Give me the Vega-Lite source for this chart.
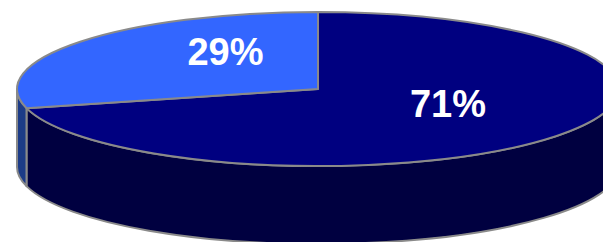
{
  "$schema": "https://vega.github.io/schema/vega-lite/v6.json",
  "width": 603,
  "height": 242,
  "padding": 0,
  "autosize": {"type": "none"},
  "background": "white",
  "config": {"view": {"stroke": null}},
  "data": {"values": [
    {"slice": "A", "value": 71, "label": "71%"},
    {"slice": "B", "value": 29, "label": "29%"}
  ]},
  "resolve": {"scale": {"shape": "independent", "fill": "independent"}},
  "layer": [
    {
      "mark": {"type": "point", "filled": true, "opacity": 1, "size": 4, "stroke": "#8a8a8a", "strokeWidth": 2, "strokeJoin": "round", "clip": true},
      "encoding": {
        "shape": {"field": "slice", "type": "nominal", "legend": null,
          "scale": {"domain": ["A", "B"], "range": [
            "M -275 -12.85 A 301 77 0 0 0 317.5 -32 L 317.5 46 A 301 77 0 0 1 -275 65.15 Z",
            "M -284.5 -32 A 301 77 0 0 0 -275 -12.85 L -275 65.15 A 301 77 0 0 1 -284.5 46 Z"
          ]}},
        "fill": {"field": "slice", "type": "nominal", "legend": null,
          "scale": {"domain": ["A", "B"], "range": ["#000040", "#1c3b87"]}}
      }
    },
    {
      "mark": {"type": "point", "filled": true, "opacity": 1, "size": 4, "stroke": "#8a8a8a", "strokeWidth": 2, "strokeJoin": "round", "clip": true},
      "encoding": {
        "shape": {"field": "slice", "type": "nominal", "legend": null,
          "scale": {"domain": ["A", "B"], "range": [
            "M 16.5 -32 L -275 -12.85 A 301 77 0 1 0 16.5 -109 Z",
            "M 16.5 -32 L 16.5 -109 A 301 77 0 0 0 -275 -12.85 Z"
          ]}},
        "fill": {"field": "slice", "type": "nominal", "legend": null,
          "scale": {"domain": ["A", "B"], "range": ["#000080", "#3366ff"]}}
      }
    },
    {
      "transform": [{"filter": "datum.slice == 'B'"}],
      "mark": {"type": "text", "dx": -76, "dy": -56, "align": "center", "baseline": "alphabetic", "font": "Liberation Sans", "fontSize": 38, "fontWeight": "bold", "color": "white"},
      "encoding": {"text": {"field": "label", "type": "nominal"}}
    },
    {
      "transform": [{"filter": "datum.slice == 'A'"}],
      "mark": {"type": "text", "dx": 146.5, "dy": -4, "align": "center", "baseline": "alphabetic", "font": "Liberation Sans", "fontSize": 38, "fontWeight": "bold", "color": "white"},
      "encoding": {"text": {"field": "label", "type": "nominal"}}
    }
  ]
}
